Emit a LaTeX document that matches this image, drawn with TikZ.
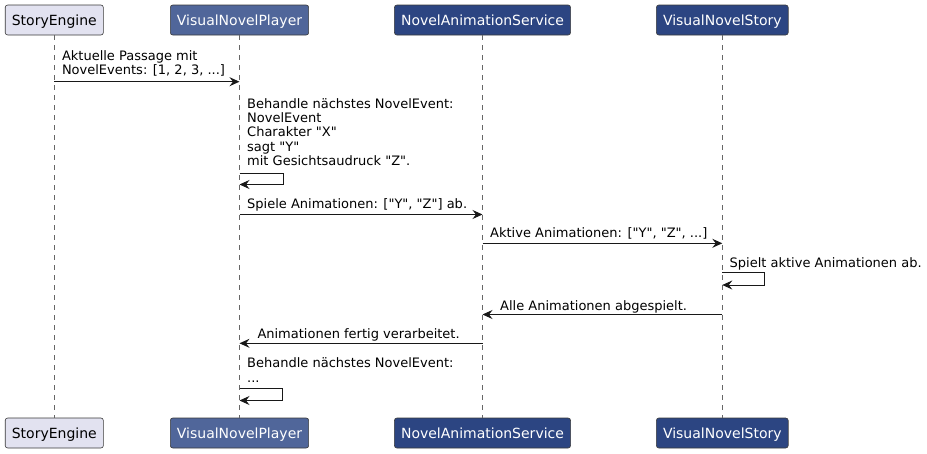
\documentclass[tikz,border=0pt]{standalone}
\usepackage{fontspec}
\setmainfont{DejaVu Sans}[Ligatures=TeXOff]
\usetikzlibrary{arrows.meta}
\definecolor{seFill}{HTML}{E2E2F0}
\definecolor{vnpFill}{HTML}{50669A}
\definecolor{darkFill}{HTML}{2C4582}
\definecolor{boxLine}{HTML}{3A3A3A}
\definecolor{msgLine}{HTML}{181818}
\begin{document}
\begin{tikzpicture}[x=1pt,y=-1pt,
  part/.style={draw=boxLine, line width=0.6pt, rounded corners=2.5pt, minimum height=30pt, inner xsep=6.6pt, inner ysep=0pt, text height=10.3pt, text depth=0pt, font=\fontsize{14}{16}\selectfont},
  light/.style={part, fill=seFill, text=black},
  mid/.style={part, fill=vnpFill, text=white},
  dark/.style={part, fill=darkFill, text=white},
  life/.style={draw=black!60, line width=0.6pt, dash pattern=on 5pt off 5pt},
  msg/.style={draw=msgLine, line width=1pt, -{Stealth[length=10pt,width=9pt,inset=3.5pt]}},
  lbl/.style={anchor=base west, inner sep=0pt, font=\fontsize{13}{15}\selectfont}]
\useasboundingbox (0,0) rectangle (927,453);
% participants (head)
\node[light] (hSE) at (54.3,20) {StoryEngine};
\node[mid] (hVNP) at (239.5,20) {VisualNovelPlayer};
\node[dark] (hNAS) at (482.5,20) {NovelAnimationService};
\node[dark] (hVNS) at (722.3,20) {VisualNovelStory};
% participants (foot)
\node[light] (fSE) at (54.3,433) {StoryEngine};
\node[mid] (fVNP) at (239.5,433) {VisualNovelPlayer};
\node[dark] (fNAS) at (482.5,433) {NovelAnimationService};
\node[dark] (fVNS) at (722.3,433) {VisualNovelStory};
% lifelines
\draw[life] (hSE.south) -- (fSE.north);
\draw[life] (hVNP.south) -- (fVNP.north);
\draw[life] (hNAS.south) -- (fNAS.north);
\draw[life] (hVNS.south) -- (fVNS.north);
% message 1
\coordinate (m1a) at (54.3,81.7);
\coordinate (m1b) at (239.5,81.7);
\draw[msg] (m1a) -- (m1b);
\node[lbl] (t1a) at (61.8,60.5) {Aktuelle Passage mit};
\node[lbl] (t1b) at (61.8,74.5) {NovelEvents: [1, 2, 3, ...]};
% message 2 (self)
\coordinate (m2a) at (239.5,173.3);
\coordinate (m2b) at (239.5,184.5);
\draw[msg] (m2a) -- ++(43.5,0) |- (m2b);
\node[lbl] (t2a) at (247,108.3) {Behandle nächstes NovelEvent:};
\node[lbl] (t2b) at (247,122.6) {NovelEvent};
\node[lbl] (t2c) at (247,136.9) {Charakter "X"};
\node[lbl] (t2d) at (247,151.3) {sagt "Y"};
\node[lbl] (t2e) at (247,165.7) {mit Gesichtsaudruck "Z".};
% message 3
\coordinate (m3a) at (239.5,214.5);
\coordinate (m3b) at (482.5,214.5);
\draw[msg] (m3a) -- (m3b);
\node[lbl] (t3) at (247,208.5) {Spiele Animationen: ["Y", "Z"] ab.};
% message 4
\coordinate (m4a) at (482.5,243.3);
\coordinate (m4b) at (722.3,243.3);
\draw[msg] (m4a) -- (m4b);
\node[lbl] (t4) at (490,237.7) {Aktive Animationen: ["Y", "Z", ...]};
% message 5 (self)
\coordinate (m5a) at (722.3,272.5);
\coordinate (m5b) at (722.3,285);
\draw[msg] (m5a) -- ++(42,0) |- (m5b);
\node[lbl] (t5) at (729.5,267.5) {Spielt aktive Animationen ab.};
% message 6
\coordinate (m6a) at (722.3,314.5);
\coordinate (m6b) at (482.5,314.5);
\draw[msg] (m6a) -- (m6b);
\node[lbl] (t6) at (500,310) {Alle Animationen abgespielt.};
% message 7
\coordinate (m7a) at (482.5,343.3);
\coordinate (m7b) at (239.5,343.3);
\draw[msg] (m7a) -- (m7b);
\node[lbl] (t7) at (257.3,338.5) {Animationen fertig verarbeitet.};
% message 8 (self)
\coordinate (m8a) at (239.5,388.3);
\coordinate (m8b) at (239.5,400.5);
\draw[msg] (m8a) -- ++(43.2,0) |- (m8b);
\node[lbl] (t8a) at (247,367.7) {Behandle nächstes NovelEvent:};
\node[lbl] (t8b) at (247,382.3) {...};
\end{tikzpicture}
\end{document}
